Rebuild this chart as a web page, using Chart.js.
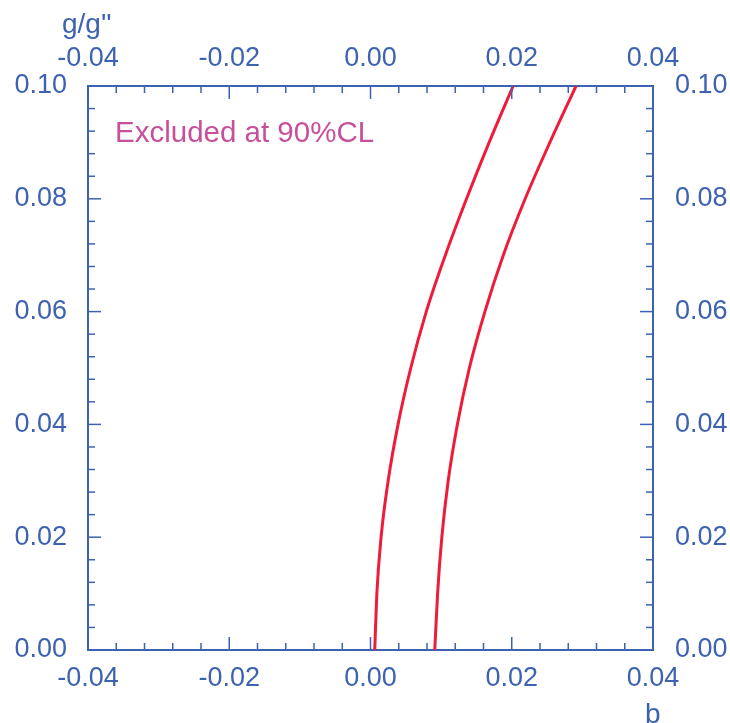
<!DOCTYPE html>
<html>
<head>
<meta charset="utf-8">
<script src="https://cdn.jsdelivr.net/npm/chart.js@4"></script>
<style>
  body { margin: 0; background: #fff; }
</style>
</head>
<body>
<canvas id="chart" width="730" height="723"></canvas>
<script>
// g/g'' values (vertical axis) and the b of each boundary curve
const gValues = [0, 0.01, 0.02, 0.03, 0.04, 0.05, 0.06, 0.07, 0.08, 0.09, 0.10];
const bLeft = [0.0006, 0.0009, 0.0015, 0.0025, 0.0039, 0.0057, 0.0079, 0.0106, 0.0136, 0.0168, 0.0202];
const bRight = [0.0091, 0.0095, 0.0101, 0.0110, 0.0123, 0.0140, 0.0162, 0.0188, 0.0219, 0.0254, 0.0291];

const bRange = [-0.04, 0.04];
const gRange = [0, 0.10];
const bStep = 0.004, gStep = 0.004, majorB = 0.02, majorG = 0.02;

const blue = '#3d62b0';
const red = '#ee1c3a';
const pink = '#c8509a';
const fontFamily = '"Liberation Sans", Arial, sans-serif';

function isMajor(v, major) {
  const r = v / major;
  return Math.abs(r - Math.round(r)) < 1e-6;
}

function tickLabel(major) {
  return function (v) {
    return isMajor(v, major) ? (Math.abs(v) < 1e-9 ? 0 : v).toFixed(2) : '';
  };
}

function axis(position, range, step, major, pad, size) {
  return {
    type: 'linear',
    position: position,
    min: range[0],
    max: range[1],
    border: { display: true, color: blue, width: 2 },
    grid: { display: false, drawTicks: false },
    ticks: {
      stepSize: step,
      autoSkip: false,
      maxRotation: 0,
      padding: pad,
      color: blue,
      font: { family: fontFamily, size: 27 },
      callback: tickLabel(major)
    },
    afterFit: function (scale) {
      if (position === 'left' || position === 'right') scale.width = size;
      else scale.height = size;
    }
  };
}

// inward tick marks and free texts
const decorations = {
  id: 'decorations',
  afterDraw(chart) {
    const ctx = chart.ctx;
    const area = chart.chartArea;
    ctx.save();
    ctx.strokeStyle = blue;
    ctx.lineWidth = 1.5;
    const sides = [
      ['x', majorB, 'bottom'], ['x2', majorB, 'top'],
      ['y', majorG, 'left'], ['y2', majorG, 'right']
    ];
    sides.forEach(([id, major, side]) => {
      const scale = chart.scales[id];
      scale.ticks.forEach(t => {
        const len = isMajor(t.value, major) ? 13 : 7;
        const p = scale.getPixelForValue(t.value);
        ctx.beginPath();
        if (side === 'bottom') { ctx.moveTo(p, area.bottom); ctx.lineTo(p, area.bottom - len); }
        if (side === 'top') { ctx.moveTo(p, area.top); ctx.lineTo(p, area.top + len); }
        if (side === 'left') { ctx.moveTo(area.left, p); ctx.lineTo(area.left + len, p); }
        if (side === 'right') { ctx.moveTo(area.right, p); ctx.lineTo(area.right - len, p); }
        ctx.stroke();
      });
    });

    ctx.textBaseline = 'alphabetic';
    ctx.textAlign = 'left';
    ctx.fillStyle = blue;
    ctx.font = '28px ' + fontFamily;
    ctx.fillText("g/g''", 62, 33);
    ctx.fillText('b', 645, 723);

    ctx.fillStyle = pink;
    ctx.font = '29.5px ' + fontFamily;
    ctx.fillText('Excluded at 90%CL', 115, 142);
    ctx.restore();
  }
};

function curve(bs) {
  return gValues.map((g, i) => ({ x: bs[i], y: g }));
}

const lineStyle = { showLine: true, borderColor: red, borderWidth: 3, pointRadius: 0, cubicInterpolationMode: 'monotone', xAxisID: 'x', yAxisID: 'y' };

new Chart(document.getElementById('chart'), {
  type: 'scatter',
  data: {
    datasets: [
      Object.assign({ data: curve(bLeft) }, lineStyle),
      Object.assign({ data: curve(bRight) }, lineStyle)
    ]
  },
  options: {
    responsive: false,
    animation: false,
    layout: { padding: 0 },
    plugins: { legend: { display: false }, tooltip: { enabled: false } },
    scales: {
      x: axis('bottom', bRange, bStep, majorB, 12, 73),
      x2: axis('top', bRange, bStep, majorB, 11, 86),
      y: axis('left', gRange, gStep, majorG, 21, 88),
      y2: axis('right', gRange, gStep, majorG, 22, 77)
    }
  },
  plugins: [decorations]
});
</script>
</body>
</html>
